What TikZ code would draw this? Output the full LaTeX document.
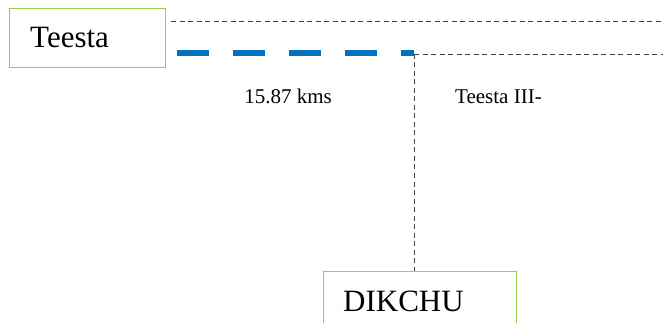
\documentclass[tikz,border=0pt]{standalone}
\usepackage{fontspec}
\setmainfont{Liberation Serif}
\definecolor{boxgreen}{RGB}{146,208,80}
\definecolor{riverblue}{RGB}{0,112,192}
\begin{document}
\begin{tikzpicture}[x=1pt,y=-1pt,
  placebox/.style={draw=boxgreen, line width=1pt, inner sep=0pt},
  bigtext/.style={font=\fontsize{31}{31}\selectfont, anchor=base west, inner sep=0pt},
  smalltext/.style={font=\fontsize{21}{21}\selectfont, anchor=base, inner sep=0pt},
  thindash/.style={draw=black!75, line width=0.9pt, dash pattern=on 5pt off 3.5pt},
  bluedash/.style={draw=riverblue, line width=6.5pt, dash pattern=on 32pt off 24pt}]
\useasboundingbox (0,0) rectangle (663,323);
% boxes
\node[placebox, minimum width=156pt, minimum height=59pt] (teestabox) at (87,38.5) {};
\node[bigtext] (teesta) at (30,48) {Teesta};
\node[placebox, minimum width=193pt, minimum height=60pt] (dikchubox) at (419.5,301) {};
\node[bigtext] (dikchu) at (343,311) {DIKCHU};
% coordinates
\coordinate (topA) at (171,21);
\coordinate (topB) at (663,21);
\coordinate (blueA) at (177,53);
\coordinate (junction) at (414,54);
\coordinate (rightEnd) at (663,54);
% lines
\draw[thindash] (topA) -- (topB);
\draw[bluedash] (blueA) -- (junction |- blueA);
\draw[thindash] (junction) -- (rightEnd);
\draw[thindash] (junction) -- (dikchubox.north -| junction);
% labels
\node[smalltext] (dist) at (288,104) {15.87 kms};
\node[smalltext, anchor=base west] (t3) at (455,104) {Teesta III-};
\end{tikzpicture}
\end{document}
